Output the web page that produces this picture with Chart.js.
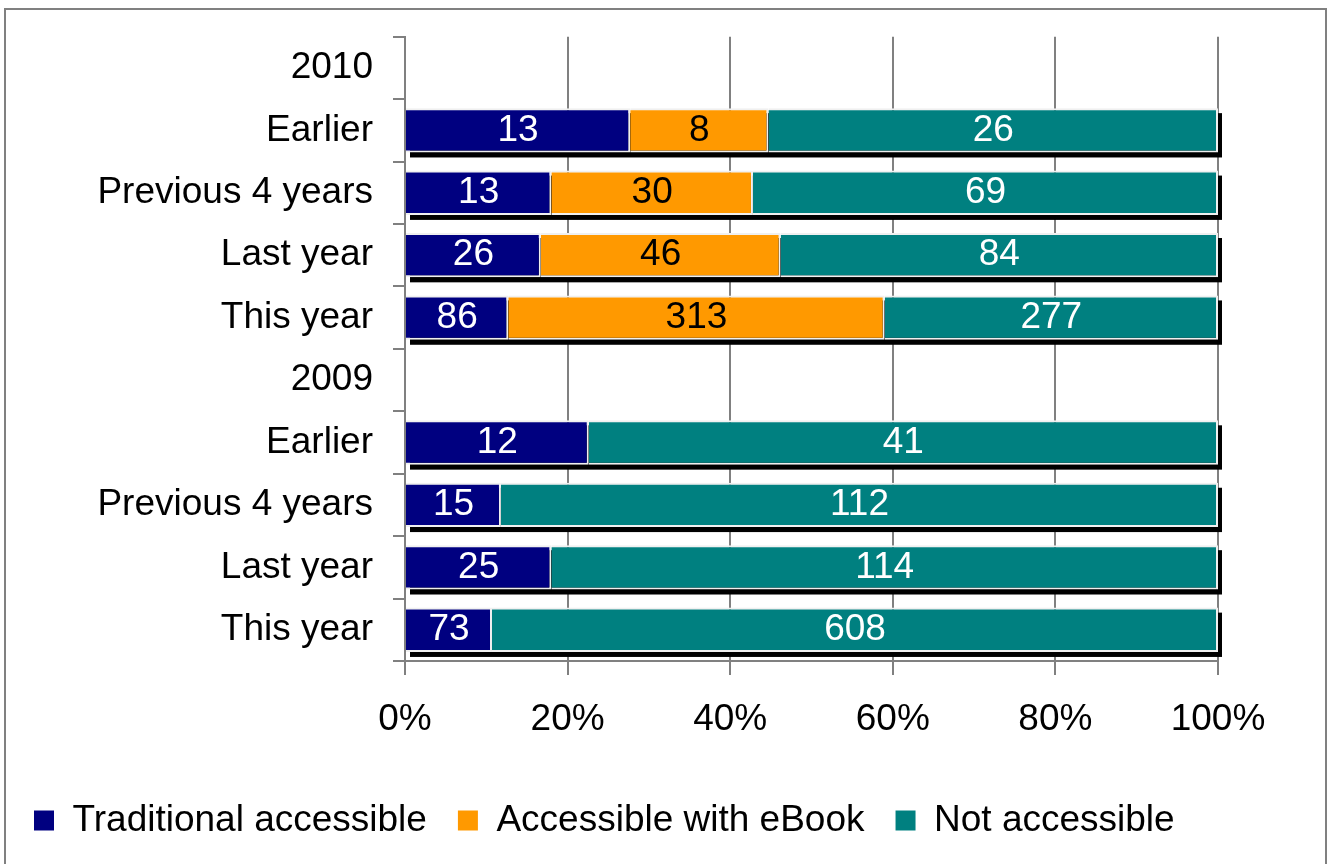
<!DOCTYPE html>
<html><head><meta charset="utf-8">
<script src="https://cdn.jsdelivr.net/npm/chart.js@4"></script>
<style>html,body{margin:0;padding:0;background:#fff}#wrap{width:1330px;height:864px;position:relative}</style>
</head><body><div id="wrap"><canvas id="c" width="1330" height="864"></canvas></div>
<script>
const categories = ['2010','Earlier','Previous 4 years','Last year','This year','2009','Earlier','Previous 4 years','Last year','This year'];
// bar lengths (share of each row, %)
const traditionalAccessible = [null,27.7,18.0,16.7,12.7,null,22.6,11.8,18.0,10.7];
const accessibleWithEBook   = [null,17.0,24.8,29.5,46.3,null,null,null,null,null];
const notAccessible         = [null,55.3,57.2,53.8,41.0,null,77.4,88.2,82.0,89.3];
// counts printed inside the bars
const traditionalAccessibleCount = [null,13,13,26,86,null,12,15,25,73];
const accessibleWithEBookCount   = [null,8,30,46,313,null,null,null,null,null];
const notAccessibleCount         = [null,26,69,84,277,null,41,112,114,608];
const xTickLabels = ['0%','20%','40%','60%','80%','100%'];
const seriesNames = ['Traditional accessible','Accessible with eBook','Not accessible'];
const seriesColors = ['#000080','#FF9900','#008080'];
const labelColors = ['#ffffff','#000000','#ffffff'];

const shares = [traditionalAccessible, accessibleWithEBook, notAccessible];
const counts = [traditionalAccessibleCount, accessibleWithEBookCount, notAccessibleCount];

Chart.defaults.font.family = '"Liberation Sans", Arial, sans-serif';
Chart.defaults.font.size = 37;
Chart.defaults.color = '#000000';

const shadowPlugin = {
  id: 'barShadow',
  beforeDatasetsDraw(chart) {
    const ctx = chart.ctx;
    ctx.save();
    ctx.fillStyle = '#000000';
    for (let i = 0; i < categories.length; i++) {
      let l = Infinity, r = -Infinity, t = 0, b = 0, any = false;
      chart.data.datasets.forEach((ds, di) => {
        if (ds.data[i] == null) return;
        const el = chart.getDatasetMeta(di).data[i];
        const p = el.getProps(['x', 'y', 'base', 'height'], true);
        l = Math.min(l, p.x, p.base); r = Math.max(r, p.x, p.base);
        t = p.y - p.height / 2; b = p.y + p.height / 2; any = true;
      });
      if (any) ctx.fillRect(l + 4, t + 5, r - l, b - t);
    }
    ctx.restore();
  }
};

const labelPlugin = {
  id: 'valueLabels',
  afterDatasetsDraw(chart) {
    const ctx = chart.ctx;
    ctx.save();
    ctx.font = '37px "Liberation Sans", Arial, sans-serif';
    ctx.textAlign = 'center';
    ctx.textBaseline = 'middle';
    chart.data.datasets.forEach((ds, di) => {
      const meta = chart.getDatasetMeta(di);
      counts[di].forEach((v, i) => {
        if (!v) return;
        const p = meta.data[i].getProps(['x', 'y', 'base'], true);
        ctx.fillStyle = labelColors[di];
        ctx.fillText(String(v), (p.x + p.base) / 2, p.y);
      });
    });
    ctx.restore();
  }
};

const framePlugin = {
  id: 'frame',
  afterDraw(chart) {
    const ctx = chart.ctx;
    ctx.save();
    ctx.strokeStyle = '#808080';
    ctx.lineWidth = 2;
    ctx.strokeRect(5, 9, 1321, 900);
    ctx.restore();
  }
};

new Chart(document.getElementById('c'), {
  type: 'bar',
  data: {
    labels: categories,
    datasets: shares.map((arr, di) => ({
      label: seriesNames[di],
      data: arr,
      backgroundColor: seriesColors[di],
      borderColor: '#f0f0f0',
      borderWidth: 2,
      barPercentage: 0.71,
      categoryPercentage: 1
    }))
  },
  options: {
    indexAxis: 'y',
    responsive: false,
    animation: false,
    devicePixelRatio: 1,
    layout: { padding: { left: 3, top: 32, right: 112, bottom: 15 } },
    scales: {
      x: {
        stacked: true, min: 0, max: 100,
        ticks: { stepSize: 20, padding: 23, callback: (v, idx) => xTickLabels[idx] },
        grid: { color: '#808080', lineWidth: 2, tickLength: 14, drawTicks: true },
        border: { color: '#808080', width: 2 },
        afterFit: s => { s.height = 110; }
      },
      y: {
        stacked: true,
        ticks: { padding: 20, font: { size: 37, lineHeight: 0.9 } },
        grid: { display: true, drawOnChartArea: false, drawTicks: true, tickLength: 12, color: '#808080', lineWidth: 2, offset: true },
        border: { color: '#808080', width: 2 },
        afterFit: s => { s.width = 402; }
      }
    },
    plugins: {
      legend: {
        position: 'bottom', align: 'start',
        labels: {
          boxWidth: 20, boxHeight: 20, padding: 31,
          font: { size: 37 },
          generateLabels: chart => Chart.defaults.plugins.legend.labels.generateLabels(chart).map(l => ({ ...l, lineWidth: 0, strokeStyle: l.fillStyle }))
        }
      },
      tooltip: { enabled: false }
    }
  },
  plugins: [shadowPlugin, labelPlugin, framePlugin]
});
</script></body></html>
